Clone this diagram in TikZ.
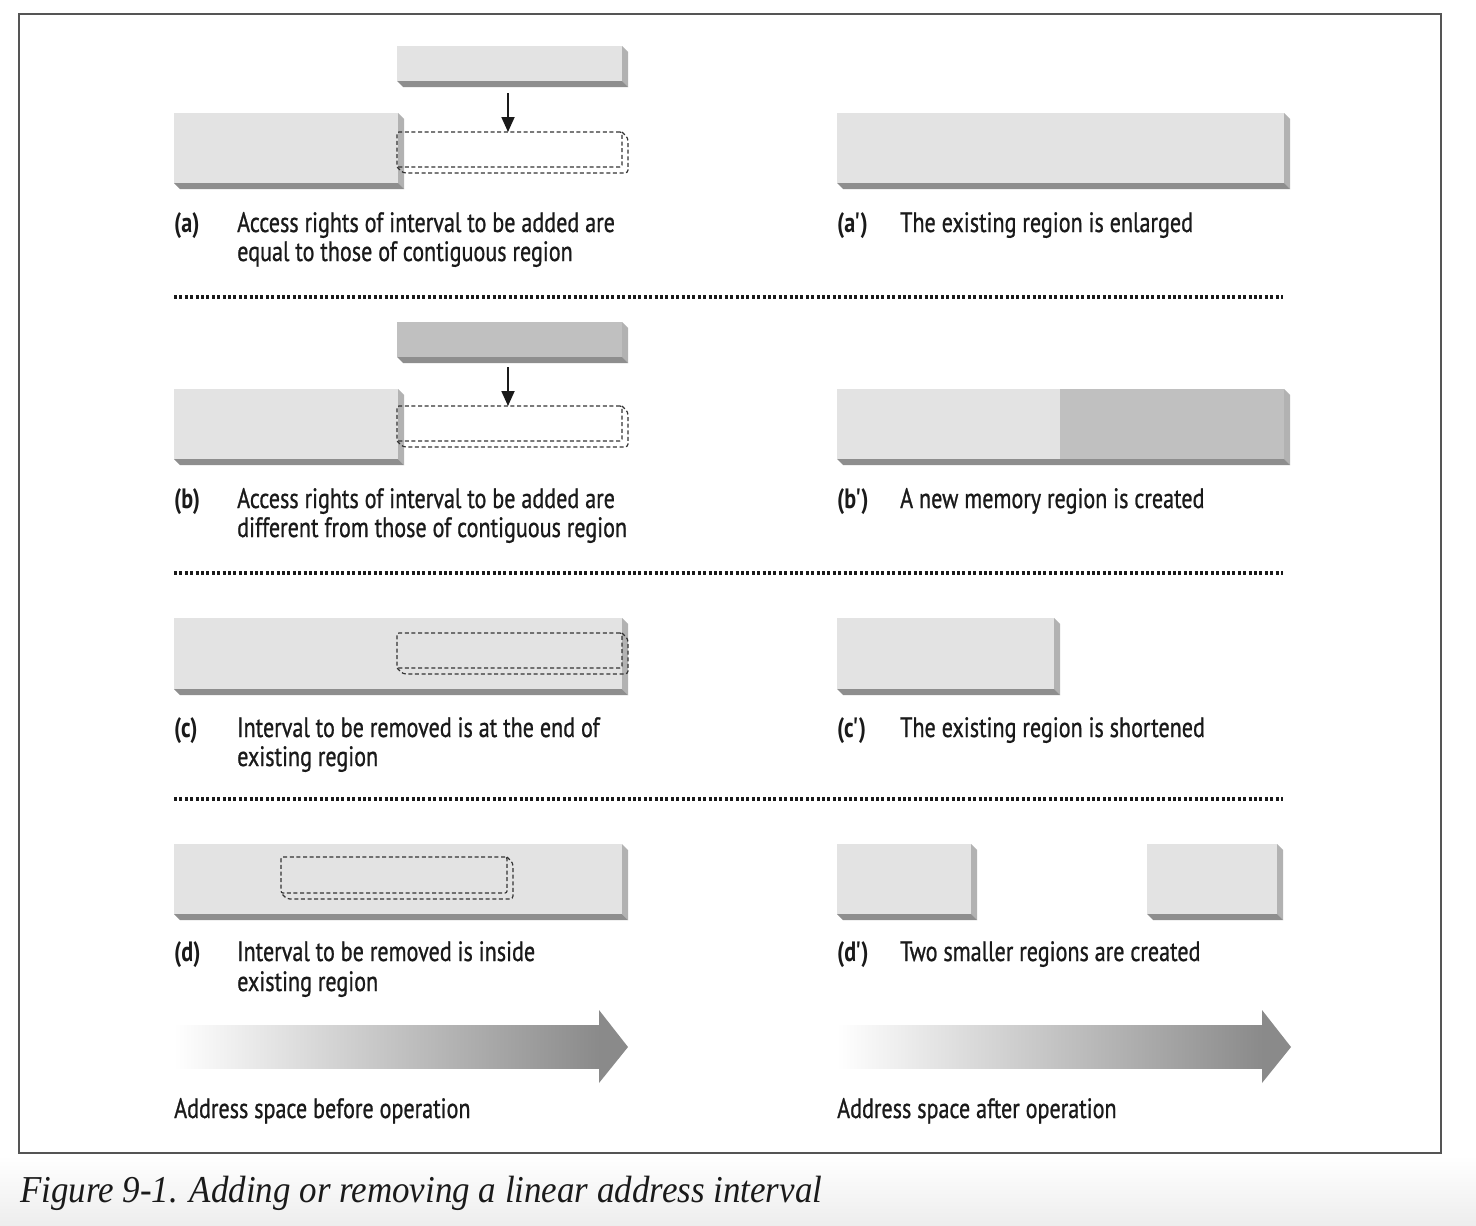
\documentclass[tikz,border=0pt]{standalone}
\usepackage{fontspec}
\setmainfont{PT Sans}[FakeStretch=0.79, UprightFeatures={FakeBold=0.8}]
\newfontfamily\capfont{Liberation Serif}[FakeStretch=0.92]
\usetikzlibrary{arrows.meta}
\definecolor{face}{HTML}{E3E3E3}
\definecolor{faceb}{HTML}{C0C0C0}
\definecolor{sidec}{HTML}{B2B2B2}
\definecolor{botc}{HTML}{8E8E8E}
\definecolor{dashc}{HTML}{333333}
\definecolor{arrc}{HTML}{8A8A8A}
\definecolor{framec}{HTML}{555555}
\definecolor{textc}{HTML}{1A1A1A}
\newcommand\sq{\kern-1pt\XeTeXglyph\XeTeXcharglyph"27\relax\kern-1pt}
\tikzset{
  barbox/.style={inner sep=0pt, outer sep=0pt, anchor=north west},
  dbox/.style={draw=dashc, line width=1.2pt, dash pattern=on 4pt off 2.6pt, rounded corners=2pt, inner sep=0pt, outer sep=0pt, anchor=north west},
  dback/.style={draw=dashc, line width=1.2pt, dash pattern=on 4pt off 2.6pt, rounded corners=3pt},
  sep/.style={draw=textc, line width=3.6pt, dash pattern=on 3pt off 2.4pt},
  txt/.style={anchor=base west, inner sep=0pt, text=textc, font=\fontsize{28}{29}\selectfont},
  lbl/.style={anchor=base west, inner sep=0pt, text=textc, font=\fontsize{28}{29}\selectfont\bfseries},
  downarrow/.style={draw=textc, line width=1.8pt, -{Triangle[length=15pt,width=13pt]}},
}
% name, x1, y1, x2, y2, fill colour
\newcommand\regbar[6]{%
  \node[barbox, fill=#6, minimum width={#4-#2}, minimum height={#5-#3}] (#1) at (#2,#3) {};
  \fill[sidec] (#1.north east) -- ++(6,6) -- ([shift={(6,6)}]#1.south east) -- (#1.south east) -- cycle;
  \fill[botc] (#1.south west) -- (#1.south east) -- ([shift={(6,6)}]#1.south east) -- ([shift={(6,6)}]#1.south west) -- cycle;
}
% name, x1, y1, x2, y2
\newcommand\ivbox[5]{%
  \node[dbox, minimum width={#4-#2}, minimum height={#5-#3}] (#1) at (#2,#3) {};
  \draw[dback] (#1.north east) -- ++(6,6) -- ([shift={(6,6)}]#1.south east) -- ([shift={(6,6)}]#1.south west) -- (#1.south west);
}
\begin{document}
\begin{tikzpicture}[x=1pt,y=-1pt]
\useasboundingbox (0,0) rectangle (1476,1226);
\fill[white] (0,0) rectangle (1476,1226);
\shade[top color=white, bottom color=black!7] (0,1156) rectangle (1476,1226);
\draw[framec, line width=1.5pt] (19,14) rectangle (1441,1153);

% ---------- row a ----------
\regbar{aTop}{397}{46}{622}{81}{face}
\regbar{aLeft}{174}{113}{398}{183}{face}
\ivbox{aDash}{397}{132}{622}{167}
\coordinate (aArr) at (508,93);
\draw[downarrow] (aArr) -- (aArr |- aDash.north);
\regbar{aRes}{837}{113}{1284}{183}{face}
\node[lbl] (aL) at (174,232) {(a)};
\node[txt] (aT1) at (237,232) {Access rights of interval to be added are};
\node[txt] (aT2) at (237,261) {equal to those of contiguous region};
\node[lbl] (aRL) at (837,232) {(a\sq)};
\node[txt] (aRT) at (900,232) {The existing region is enlarged};
\draw[sep] (174,297) -- (1283,297);

% ---------- row b ----------
\regbar{bTop}{397}{322}{622}{357}{faceb}
\regbar{bLeft}{174}{389}{398}{459}{face}
\ivbox{bDash}{397}{406}{622}{441}
\coordinate (bArr) at (508,367);
\draw[downarrow] (bArr) -- (bArr |- bDash.north);
\regbar{bRes}{837}{389}{1284}{459}{face}
\fill[faceb] (1060,389) rectangle (bRes.south east);
\node[lbl] (bL) at (174,508) {(b)};
\node[txt] (bT1) at (237,508) {Access rights of interval to be added are};
\node[txt] (bT2) at (237,537) {different from those of contiguous region};
\node[lbl] (bRL) at (837,508) {(b\sq)};
\node[txt] (bRT) at (900,508) {A new memory region is created};
\draw[sep] (174,573) -- (1283,573);

% ---------- row c ----------
\regbar{cLeft}{174}{618}{622}{689}{face}
\ivbox{cDash}{397}{633}{622}{668}
\regbar{cRes}{837}{618}{1054}{689}{face}
\node[lbl] (cL) at (174,737) {(c)};
\node[txt] (cT1) at (237,737) {Interval to be removed is at the end of};
\node[txt] (cT2) at (237,766) {existing region};
\node[lbl] (cRL) at (837,737) {(c\sq)};
\node[txt] (cRT) at (900,737) {The existing region is shortened};
\draw[sep] (174,799) -- (1283,799);

% ---------- row d ----------
\regbar{dLeft}{174}{844}{622}{914}{face}
\ivbox{dDash}{281}{857}{507}{893}
\regbar{dResA}{837}{844}{971}{914}{face}
\regbar{dResB}{1147}{844}{1277}{914}{face}
\node[lbl] (dL) at (174,961) {(d)};
\node[txt] (dT1) at (237,961) {Interval to be removed is inside};
\node[txt] (dT2) at (237,991) {existing region};
\node[lbl] (dRL) at (837,961) {(d\sq)};
\node[txt] (dRT) at (900,961) {Two smaller regions are created};

% ---------- address arrows ----------
\shade[left color=white, right color=arrc] (174,1025) rectangle (600,1068);
\fill[arrc] (599,1010) -- (628,1047) -- (599,1083) -- cycle;
\shade[left color=white, right color=arrc] (837,1025) rectangle (1263,1068);
\fill[arrc] (1262,1010) -- (1291,1047) -- (1262,1083) -- cycle;
\node[txt] (addrB) at (174,1118) {Address space before operation};
\node[txt] (addrA) at (837,1118) {Address space after operation};

% ---------- caption ----------
\node[anchor=base west, inner sep=0pt, text=textc, font=\capfont\itshape\fontsize{38}{40}\selectfont] (cap) at (20,1202) {Figure 9-1. Adding or removing a linear address interval};
\end{tikzpicture}
\end{document}
